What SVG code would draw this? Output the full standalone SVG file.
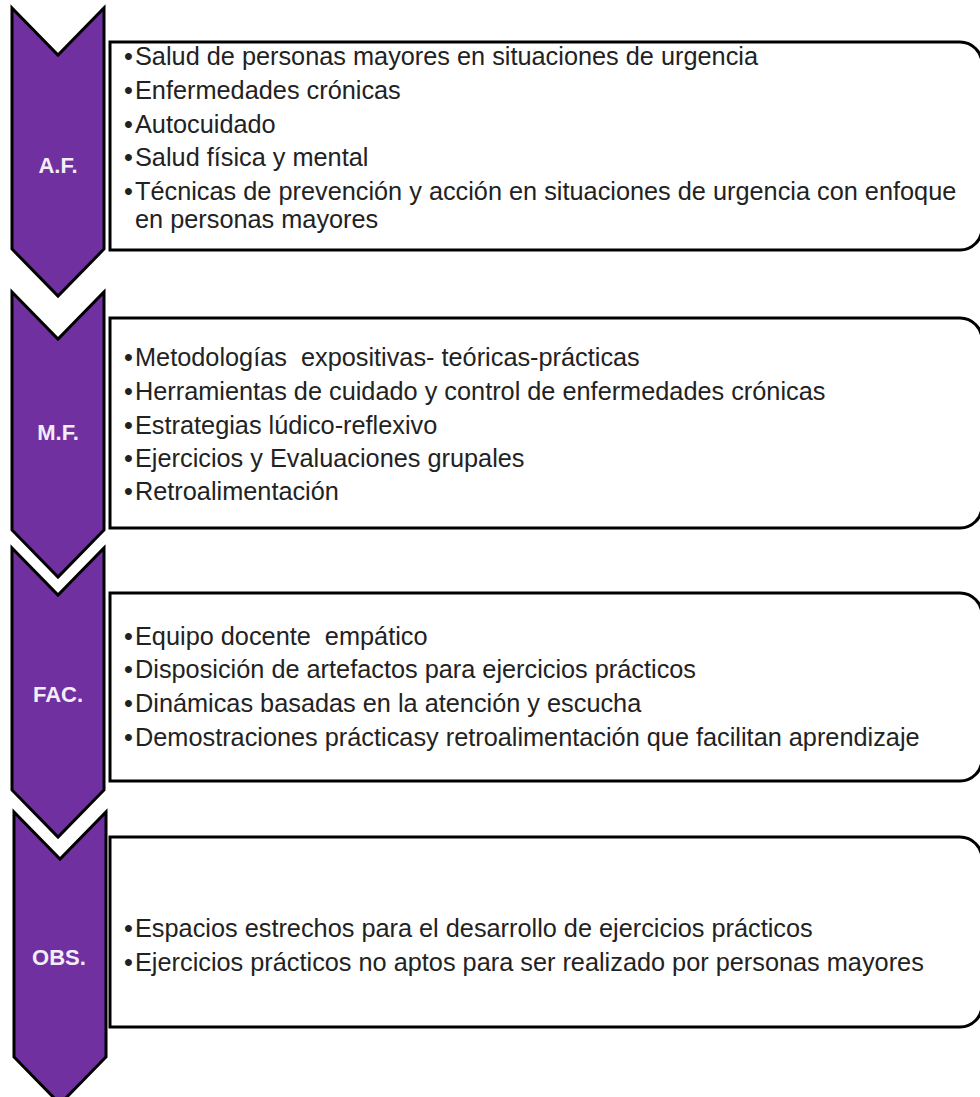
<svg xmlns="http://www.w3.org/2000/svg" width="980" height="1097" viewBox="0 0 980 1097">
<style>
.chev{fill:#7030A0;stroke:#000;stroke-width:3;stroke-linejoin:miter}
.box{fill:#fff;stroke:#000;stroke-width:3}
.lbl{font-family:"Liberation Sans",Arial,sans-serif;font-weight:bold;font-size:22px;fill:#F3EDF9;text-anchor:middle}
.t{font-family:"Liberation Sans",Arial,sans-serif;font-size:25.3px;fill:#222}
</style>
<rect width="980" height="1097" fill="#fff"/>
<g id="connectors"></g>
<g id="node-af">
<path class="chev" d="M12,8 L58,55 L104,8 V249 L58,296 L12,249 Z"/>
<text class="lbl" x="58" y="173">A.F.</text>
<path class="box" d="M110,42 H960 A22,22 0 0 1 982,64 V228 A22,22 0 0 1 960,250 H110 Z"/>
<g class="t">
<text x="124" y="65">•</text><text x="135" y="65">Salud de personas mayores en situaciones de urgencia</text>
<text x="124" y="99">•</text><text x="135" y="99">Enfermedades crónicas</text>
<text x="124" y="133">•</text><text x="135" y="133">Autocuidado</text>
<text x="124" y="166">•</text><text x="135" y="166">Salud física y mental</text>
<text x="124" y="200">•</text><text x="135" y="200">Técnicas de prevención y acción en situaciones de urgencia con enfoque</text>
<text x="135" y="228">en personas mayores</text>
</g>
</g>
<g id="node-mf">
<path class="chev" d="M12,292 L58,339 L104,292 V530 L58,577 L12,530 Z"/>
<text class="lbl" x="58" y="440">M.F.</text>
<path class="box" d="M110,318 H960 A22,22 0 0 1 982,340 V506 A22,22 0 0 1 960,528 H110 Z"/>
<g class="t">
<text x="124" y="366">•</text><text x="135" y="366" xml:space="preserve">Metodologías  expositivas- teóricas-prácticas</text>
<text x="124" y="400">•</text><text x="135" y="400">Herramientas de cuidado y control de enfermedades crónicas</text>
<text x="124" y="434">•</text><text x="135" y="434">Estrategias lúdico-reflexivo</text>
<text x="124" y="467">•</text><text x="135" y="467">Ejercicios y Evaluaciones grupales</text>
<text x="124" y="500">•</text><text x="135" y="500">Retroalimentación</text>
</g>
</g>
<g id="node-fac">
<path class="chev" d="M12,548 L58,595 L104,548 V790 L58,837 L12,790 Z"/>
<text class="lbl" x="58" y="702">FAC.</text>
<path class="box" d="M110,593 H960 A22,22 0 0 1 982,615 V759 A22,22 0 0 1 960,781 H110 Z"/>
<g class="t">
<text x="124" y="645">•</text><text x="135" y="645" xml:space="preserve">Equipo docente  empático</text>
<text x="124" y="678">•</text><text x="135" y="678">Disposición de artefactos para ejercicios prácticos</text>
<text x="124" y="712">•</text><text x="135" y="712">Dinámicas basadas en la atención y escucha</text>
<text x="124" y="746">•</text><text x="135" y="746">Demostraciones prácticasy retroalimentación que facilitan aprendizaje</text>
</g>
</g>
<g id="node-obs">
<path class="chev" d="M14,812 L60,859 L106,812 V1057 L60,1104 L14,1057 Z"/>
<text class="lbl" x="59" y="965">OBS.</text>
<path class="box" d="M110,837 H960 A22,22 0 0 1 982,859 V1005 A22,22 0 0 1 960,1027 H110 Z"/>
<g class="t">
<text x="124" y="937">•</text><text x="135" y="937">Espacios estrechos para el desarrollo de ejercicios prácticos</text>
<text x="124" y="971">•</text><text x="135" y="971">Ejercicios prácticos no aptos para ser realizado por personas mayores</text>
</g>
</g>
</svg>
